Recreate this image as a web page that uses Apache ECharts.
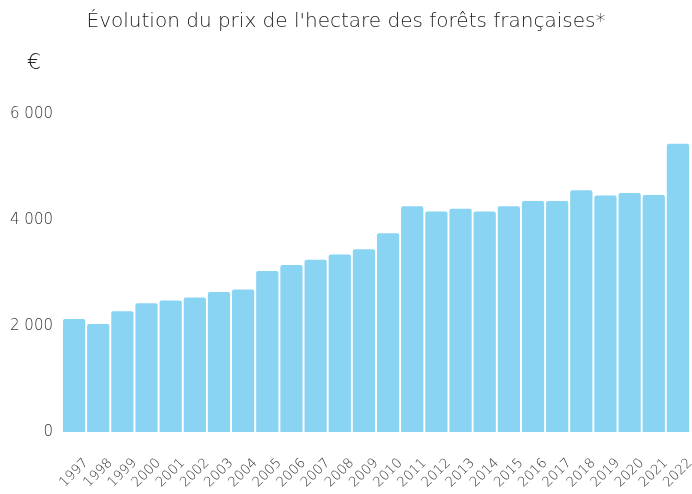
<!DOCTYPE html>
<html><head><meta charset="utf-8">
<script src="https://cdn.jsdelivr.net/npm/echarts@6/dist/echarts.min.js"></script>
<style>html,body{margin:0;padding:0;background:#fff}#c{width:692px;height:494px}</style>
</head><body><div id="c"></div>
<script>
const years = ['1997','1998','1999','2000','2001','2002','2003','2004','2005','2006','2007','2008','2009','2010','2011','2012','2013','2014','2015','2016','2017','2018','2019','2020','2021','2022'];
const prices = [2130,2040,2280,2430,2480,2540,2640,2690,3040,3150,3250,3350,3450,3750,4260,4160,4210,4160,4260,4360,4360,4560,4460,4510,4470,5440];
const yTicks = [0,2000,4000,6000];
const titleText = "Évolution du prix de l'hectare des forêts françaises*";
const unitText = '€';

const FONT = "'DejaVu Sans'";
const fmt = v => String(v).replace(/\B(?=(\d{3})+(?!\d))/g, ' ');
const chart = echarts.init(document.getElementById('c'), null, {renderer:'canvas'});
chart.setOption({
  animation:false,
  textStyle:{fontFamily:FONT},
  title:{text:titleText,left:'center',top:7,textStyle:{fontFamily:FONT,fontSize:20,fontWeight:200,color:'#222'}},
  graphic:[{type:'text',left:27,top:52,style:{text:unitText,fontFamily:FONT,fontSize:22,fontWeight:200,fill:'#222'}}],
  grid:{left:62,right:2,top:114,bottom:62,containLabel:false,outerBoundsMode:'none'},
  xAxis:{type:'category',data:years,axisLine:{show:false},axisTick:{show:false},
    axisLabel:{rotate:45,fontSize:13.5,fontWeight:200,color:'#333',margin:41,interval:0,align:'center',verticalAlign:'middle'}},
  yAxis:{type:'value',min:yTicks[0],max:yTicks[yTicks.length-1],interval:2000,
    splitLine:{show:false},axisLine:{show:false},axisTick:{show:false},
    axisLabel:{fontSize:15,fontWeight:200,color:'#333',margin:9,formatter:fmt,padding:[5,0,0,0]}},
  series:[{type:'bar',data:prices,barCategoryGap:'8%',
    itemStyle:{color:'#89d3f3',borderRadius:[2,2,0,0]}}]
});
</script></body></html>
